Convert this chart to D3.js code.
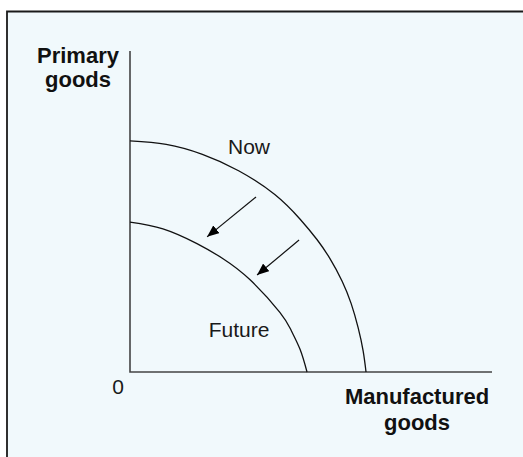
<!DOCTYPE html>
<html>
<head>
<meta charset="utf-8">
<script src="https://cdn.jsdelivr.net/npm/d3@7"></script>
<style>
  html, body { margin: 0; padding: 0; background: #fff; }
  svg { display: block; font-family: "Liberation Sans", Arial, Helvetica, sans-serif; }
</style>
</head>
<body>
<svg id="chart" width="523" height="457"></svg>
<script>
// Production possibility frontiers (axis units 0..100)
var nowCurve = [[0, 72], [10, 70.9], [20, 67.8], [30, 62.7], [40, 55.3], [47, 47.6],
                [51.7, 41.2], [55.2, 35.4], [58.6, 28.3], [61.1, 21.3], [63, 13.9],
                [64.4, 6.6], [65.2, 0]];
var futureCurve = [[0, 46.7], [9.1, 44.6], [18.5, 40], [25.7, 35.3], [33.1, 28.8],
                   [41.4, 18.6], [44.5, 13], [47, 7], [48.9, 0]];
// shift arrows: [from, to]
var shifts = [[[34.8, 54.5], [21.3, 42.1]],
              [[46.7, 41.1], [35.1, 30.2]]];
var curveLabels = ["Now", "Future"];
var xLabel = ["Manufactured", "goods"];
var yLabel = ["Primary", "goods"];

var svg = d3.select("#chart"),
    width = +svg.attr("width"),
    height = +svg.attr("height");

var x = d3.scaleLinear().domain([0, 100]).range([130, 492]);
var y = d3.scaleLinear().domain([0, 100]).range([372, 51]);

// panel background
svg.append("rect")
    .attr("x", 7).attr("y", 11)
    .attr("width", width).attr("height", height)
    .attr("fill", "#f1f9fc");
svg.append("path")
    .attr("d", "M7," + height + "V11.5H" + width)
    .attr("fill", "none")
    .attr("stroke", "#1a1a1a")
    .attr("stroke-width", 1.8);

svg.append("defs").append("marker")
    .attr("id", "head")
    .attr("viewBox", "0 0 12 10")
    .attr("refX", 12).attr("refY", 5)
    .attr("markerWidth", 12).attr("markerHeight", 10)
    .attr("markerUnits", "userSpaceOnUse")
    .attr("orient", "auto")
  .append("path")
    .attr("d", "M0,0L12,5L0,10Z")
    .attr("fill", "#000");

// axes
svg.append("path")
    .attr("d", "M" + x(0) + "," + y(100) + "V" + y(0) + "H" + x(100))
    .attr("fill", "none")
    .attr("stroke", "#444")
    .attr("stroke-width", 1.6);

var line = d3.line()
    .x(function(d) { return x(d[0]); })
    .y(function(d) { return y(d[1]); })
    .curve(d3.curveNatural);

svg.selectAll(".ppf")
    .data([nowCurve, futureCurve])
    .enter().append("path")
      .attr("class", "ppf")
      .attr("d", line)
      .attr("fill", "none")
      .attr("stroke", "#111")
      .attr("stroke-width", 1.3);

svg.selectAll(".shift")
    .data(shifts)
    .enter().append("line")
      .attr("class", "shift")
      .attr("x1", function(d) { return x(d[0][0]); })
      .attr("y1", function(d) { return y(d[0][1]); })
      .attr("x2", function(d) { return x(d[1][0]); })
      .attr("y2", function(d) { return y(d[1][1]); })
      .attr("stroke", "#111")
      .attr("stroke-width", 1.2)
      .attr("marker-end", "url(#head)");

// curve labels
svg.append("text")
    .attr("x", 249).attr("y", 154)
    .attr("text-anchor", "middle")
    .attr("font-size", 21)
    .attr("fill", "#1a1a1a")
    .text(curveLabels[0]);
svg.append("text")
    .attr("x", 239).attr("y", 337)
    .attr("text-anchor", "middle")
    .attr("font-size", 21)
    .attr("fill", "#1a1a1a")
    .text(curveLabels[1]);

svg.append("text")
    .attr("x", 118).attr("y", 394)
    .attr("text-anchor", "middle")
    .attr("font-size", 21)
    .attr("fill", "#1a1a1a")
    .text("0");

// axis titles
function titleBlock(lines, cx, baseline, lh) {
  var t = svg.append("text")
      .attr("text-anchor", "middle")
      .attr("font-size", 22)
      .attr("font-weight", "bold")
      .attr("fill", "#111");
  lines.forEach(function(s, i) {
    t.append("tspan").attr("x", cx).attr("y", baseline + i * lh).text(s);
  });
}
titleBlock(yLabel, 78, 63, 24);
titleBlock(xLabel, 417, 404, 26);
</script>
</body>
</html>
